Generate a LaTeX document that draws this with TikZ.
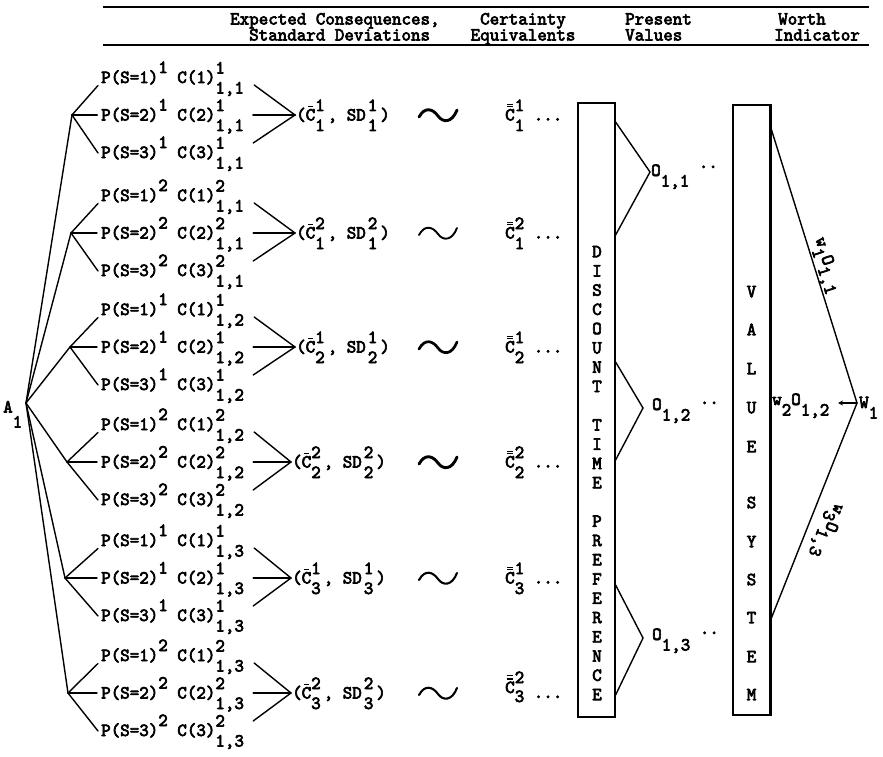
\documentclass[tikz,border=0pt]{standalone}
\usepackage{fontspec}
\usetikzlibrary{arrows.meta}
% typewriter face used for every label
\newfontfamily\tw{lmmono10-regular.otf}[FakeStretch=0.98,FakeBold=3.5]
\newcommand\hiup[1]{\raisebox{10pt}{#1}}
\newcommand\lodown[1]{\raisebox{-10.5pt}{#1}}
\newcommand\lowish[1]{\raisebox{-7pt}{#1}}
\newcommand\supsub[2]{\rlap{\raisebox{9.5pt}{#1}}\raisebox{-10.5pt}{#2}}
\newcommand\cbar{\rlap{\hspace{2.2pt}\rule[13.6pt]{5.4pt}{1pt}}C}
\newcommand\cdbar{\rlap{\hspace{2.2pt}\rule[13.2pt]{5.4pt}{1pt}}\rlap{\hspace{2.2pt}\rule[15.9pt]{5.4pt}{1pt}}C}
\begin{document}
\begin{tikzpicture}[x=1pt,y=-1pt,
  tt/.style={font=\tw\fontsize{18.5}{22}\selectfont},
  txt/.style={tt,anchor=base west,inner sep=0pt},
  hd/.style={txt},
  lt/.style={tt,anchor=base,inner sep=0pt},
  ln/.style={line width=1.4pt,line cap=round},
  rulerline/.style={line width=1.2pt},
  colbox/.style={draw,line width=1.2pt,inner sep=0pt,minimum width=37pt},
  tl/.style={line width=2.4pt,line cap=round}]
\useasboundingbox (0,0) rectangle (883,757);

% column headings between two rules
\draw[rulerline] (103,7) -- (869,7);
\draw[rulerline] (103,45) -- (869,45);
\node[hd] (h1a) at (230,24.5) {Expected Consequences,};
\node[hd] (h1b) at (249,40.5) {Standard Deviations};
\node[hd] (h2a) at (480,24.5) {Certainty};
\node[hd] (h2b) at (470.5,40.5) {Equivalents};
\node[hd] (h3a) at (625,24.5) {Present};
\node[hd] (h3b) at (625,40.5) {Values};
\node[hd] (h4a) at (778,24.5) {Worth};
\node[hd] (h4b) at (774,40.5) {Indicator};

% alternative A1 and its decision tree
\coordinate (root) at (26,403);
\node[txt] (A) at (3,412.5) {A\raisebox{-15pt}{1}};

\foreach \g/\yc/\s/\j/\bx/\vx/\mw in {
  1/115/1/1/72/295/2.3, 2/233/2/1/71/295/1.4, 3/347/1/2/70/295/1.4,
  4/462/2/2/67/291/1.4, 5/578/1/3/65/291/1.4, 6/693/2/3/68/291/1.4}{
  \coordinate (b\g) at (\bx,\yc);
  \coordinate (v\g) at (\vx,\yc);
  \draw[ln] (root) -- (b\g);
  \foreach \k/\dy in {1/-37.5,2/0,3/37.5}{
    \node[txt] (r\g-\k) at (101,\yc+\dy+5.5)
      {P(S=\k)\hiup{\s} C(\k)\supsub{\s}{1,\j}};
  }
  \draw[ln] (b\g) -- ([shift={(-3,2.5)}]r\g-1.base west);
  \draw[ln,line width=\mw pt] (b\g) -- ([shift={(-4,-5.5)}]r\g-2.base west);
  \draw[ln] (b\g) -- ([shift={(-3,-5)}]r\g-3.base west);
  \draw[ln] ([shift={(10,2)}]r\g-1.base east) -- (v\g);
  \draw[ln,line width=\mw pt] ([shift={(9,-5.5)}]r\g-2.base east) -- (v\g);
  \draw[ln] ([shift={(9,-15)}]r\g-3.base east) -- (v\g);
  \node[txt] (e\g) at (\vx+1,\yc+5.5)
    {(\cbar\supsub{\s}{\j}\hspace{3pt}, SD\hspace{2pt}\supsub{\s}{\j}\hspace{3pt})};
}

% equivalence signs
\foreach \yc/\w in {115/2.9,233/1.9,347/2.7,462/2.9,578/2.1,693/2.1}{
  \draw[tl,line width=\w pt] (419,\yc+2) .. controls (425,\yc-9) and (433,\yc-6) .. (438,\yc+1)
    .. controls (443,\yc+8) and (452,\yc+8) .. (457,\yc-5);
}

% certainty equivalents
\foreach \g/\yc/\s/\j in {1/115/1/1,2/233/2/1,3/347/1/2,4/462/2/2,5/578/1/3}{
  \node[txt] (q\g) at (505,\yc+5.5) {\cdbar\supsub{\s}{\j} ...};
}
\node[txt] (q6) at (505,698)
  {\rlap{\hspace{1.5pt}\rule[18.5pt]{6.5pt}{1.6pt}}\rlap{\hspace{1.5pt}\rule[21.8pt]{6.5pt}{1.6pt}}\raisebox{5pt}{C}\rlap{\raisebox{15pt}{2}}\raisebox{-4pt}{3} ...};

% discount time preference column
\node[colbox,minimum height=614pt] (dtp) at (596.5,410) {};
\foreach \ch [count=\i from 0] in {D,I,S,C,O,U,N,T,{},T,I,M,E,{},P,R,E,F,E,R,E,N,C,E}{
  \node[lt] (d\i) at (597,252+19.26*\i+5.2) {\ch};
}

% present values
\coordinate (pv1) at (650,172);
\coordinate (pv2) at (643,408);
\coordinate (pv3) at (643,638);
\draw[ln] (dtp.east |- 0,122) -- (pv1) -- (dtp.east |- 0,235);
\draw[ln] (dtp.east |- 0,362) -- (pv2) -- (dtp.east |- 0,460);
\draw[ln] (dtp.east |- 0,585) -- (pv3) -- (dtp.east |- 0,695);
\node[txt] (o1) at (651,176) {O\lodown{1,1}\ \raisebox{8pt}{..}};
\node[txt] (o2) at (652,410) {O\lodown{1,2}\ \raisebox{6pt}{..}};
\node[txt] (o3) at (652,640) {O\lodown{1,3}\ \raisebox{6pt}{..}};

% value system column
\node[colbox,minimum height=610pt] (vs) at (751.5,410) {};
\draw[line width=2.4pt] (vs.north east) -- (vs.south east);
\foreach \ch/\yy [count=\i] in {V/292,A/330,L/369,U/408,E/447,S/503,Y/542,S/580,T/618,E/657,M/695}{
  \node[lt] (s\i) at (751.5,\yy+5.2) {\ch};
}

% worth indicator
\coordinate (wv) at (857,403);
\coordinate (wa) at (838,403);
\draw[ln] (vs.east |- 0,127) -- (wv) -- (vs.east |- 0,620);
\draw[ln,-{Stealth[length=5pt,width=5pt]}] (wv) -- (wa);
\node[txt] (w2) at (772,405) {w\lodown{2}O\lodown{1,2}};
\node[txt] (W) at (859,408) {W\lodown{1}};
\node[tt,inner sep=0pt,rotate=-72] (w1) at (825,266) {w\lowish{1}O\lowish{1,1}};
\node[tt,inner sep=0pt,rotate=-111] (w3) at (826,530) {w\lowish{3}O\lowish{1,3}};
\end{tikzpicture}
\end{document}
